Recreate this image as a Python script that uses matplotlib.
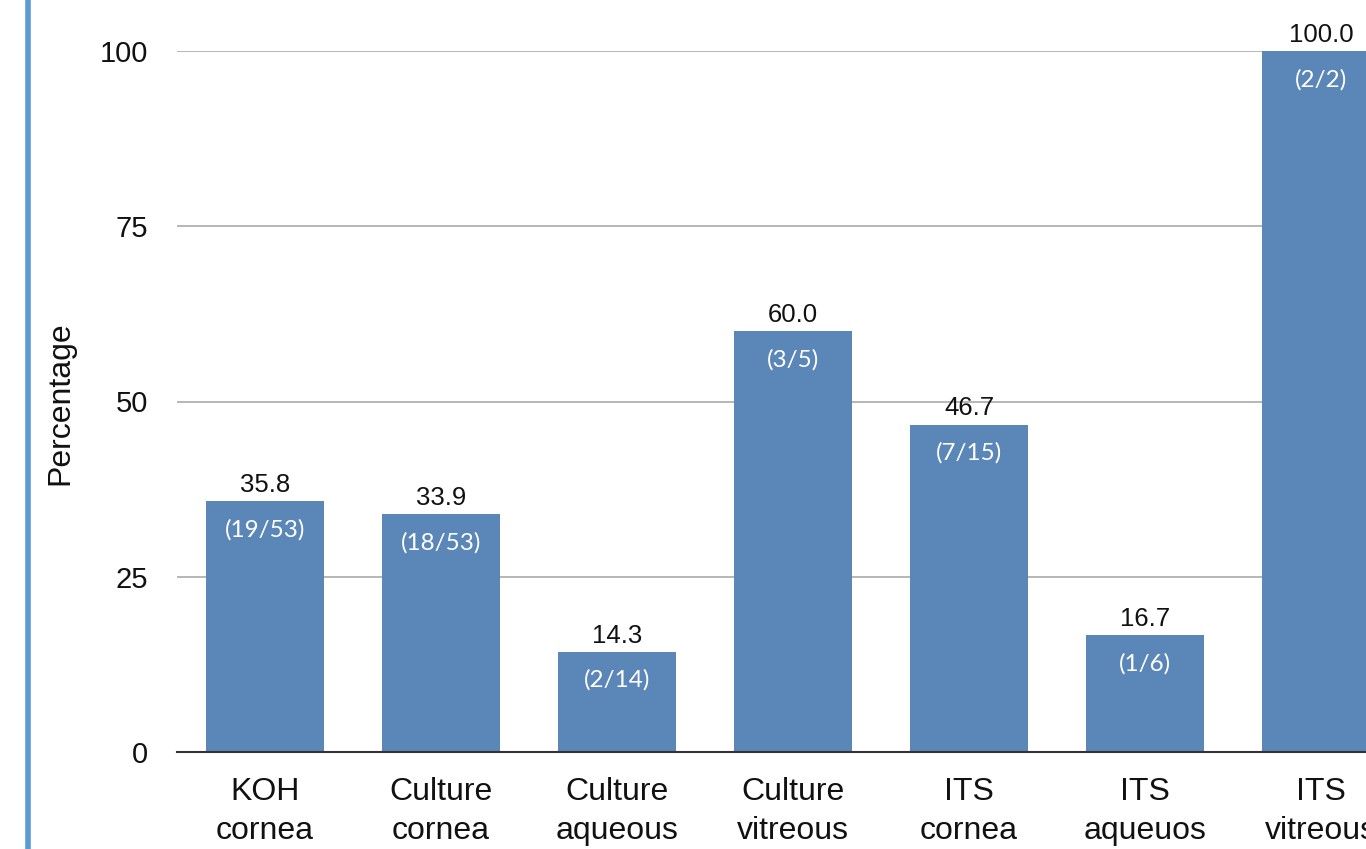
import matplotlib
matplotlib.use("Agg")
import matplotlib.pyplot as plt
from matplotlib.lines import Line2D

categories = ["KOH\ncornea", "Culture\ncornea", "Culture\naqueous", "Culture\nvitreous",
              "ITS\ncornea", "ITS\naqueuos", "ITS\nvitreous"]
values = [35.8, 33.9, 14.3, 60.0, 46.7, 16.7, 100.0]
fractions = ["(19/53)", "(18/53)", "(2/14)", "(3/5)", "(7/15)", "(1/6)", "(2/2)"]
yticks = [0, 25, 50, 75, 100]

plt.rcParams['font.family'] = ['Liberation Sans', 'DejaVu Sans']

W, H = 1366, 849
fig = plt.figure(figsize=(W / 100, H / 100), dpi=100)

left_px, bottom_px, top_px = 177, 752, 51
slot = 176
ax = fig.add_axes([left_px / W, (H - bottom_px) / H, 7 * slot / W, (bottom_px - top_px) / H])
x = list(range(len(categories)))
bars = ax.bar(x, values, width=0.67, color="#5b86b8", zorder=3)
ax.set_xlim(-0.5, 6.5)
ax.set_ylim(0, 100)
ax.set_yticks(yticks)
ax.set_yticklabels([str(t) for t in yticks], fontsize=21, color="#111111")
ax.tick_params(axis='y', length=0, pad=21)
ax.set_xticks(x)
ax.set_xticklabels(categories, fontsize=23, color="#111111", linespacing=1.38, va='top')
ax.tick_params(axis='x', length=0, pad=18)
for s in ["top", "right", "left"]:
    ax.spines[s].set_visible(False)
ax.spines["bottom"].set_color("#333333")
ax.spines["bottom"].set_linewidth(1.5)
ax.spines["bottom"].set_zorder(4)
ax.yaxis.grid(True, color="#aaaaaa", linewidth=1.2, zorder=0)
ax.set_axisbelow(True)

for xi, v, fr in zip(x, values, fractions):
    ax.annotate(f"{v:.1f}", (xi, v), xytext=(0, 3), textcoords="offset points",
                ha="center", va="bottom", fontsize=18.5, color="#111111", clip_on=False)
    ax.annotate(fr, (xi, v), xytext=(0, -20.5), textcoords="offset points",
                ha="center", va="center", fontsize=17.5, color="white",
                family=["Lato", "DejaVu Sans"], zorder=5)

fig.text(60 / W, 1 - 403 / H, "Percentage", rotation=90, ha="center", va="center",
         fontsize=23, color="#111111")

fig.add_artist(Line2D([27.5 / W, 27.5 / W], [0, 1], transform=fig.transFigure,
                      color="#5b9bd5", linewidth=4))

fig.savefig("out.png", dpi=100)
